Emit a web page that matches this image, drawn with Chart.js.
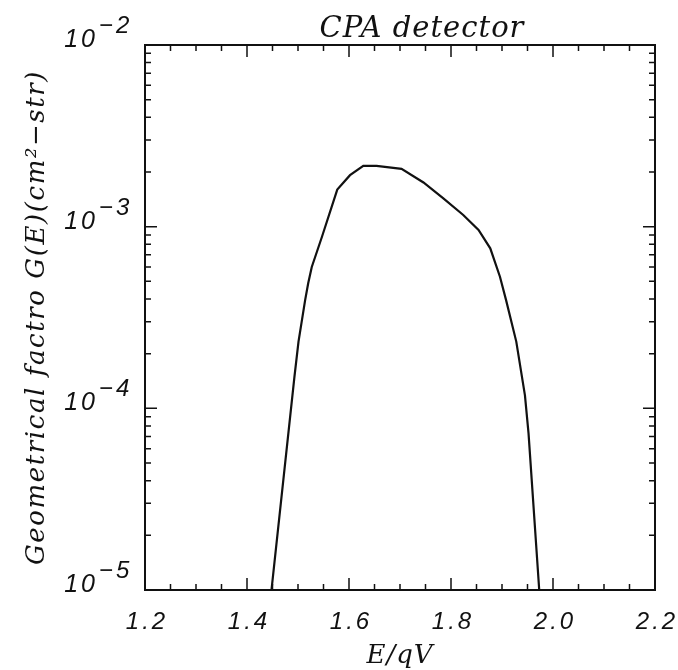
<!DOCTYPE html>
<html>
<head>
<meta charset="utf-8">
<script src="https://cdn.jsdelivr.net/npm/chart.js@4.4.1/dist/chart.umd.min.js"></script>
<style>
  body { margin: 0; background: #fff; }
  canvas { display: block; }
</style>
</head>
<body>
<canvas id="cpaChart" width="678" height="670"></canvas>
<script>
// E/qV values
var energy = [1.448, 1.493, 1.501, 1.514, 1.520, 1.527, 1.547, 1.577, 1.602, 1.628, 1.654,
              1.703, 1.746, 1.785, 1.824, 1.854, 1.877, 1.896, 1.908, 1.928, 1.945, 1.952, 1.973];
// geometrical factor G(E) in cm^2-str
var gFactor = [1.0e-5, 1.49e-4, 2.33e-4, 3.94e-4, 4.88e-4, 6.0e-4, 8.8e-4, 1.60e-3, 1.92e-3, 2.16e-3, 2.16e-3,
               2.08e-3, 1.75e-3, 1.43e-3, 1.16e-3, 9.6e-4, 7.6e-4, 5.3e-4, 3.94e-4, 2.33e-4, 1.18e-4, 7.3e-5, 1.0e-5];

var xTicks = [1.2, 1.4, 1.6, 1.8, 2.0, 2.2];
var xTickLabels = ['1.2', '1.4', '1.6', '1.8', '2.0', '2.2'];
var yTicks = [1e-2, 1e-3, 1e-4, 1e-5];
var yTickExps = ['\u22122', '\u22123', '\u22124', '\u22125'];

var chartTitle = 'CPA detector';
var xTitle = 'E/qV';
var yTitle = 'Geometrical factro G(E)(cm\u00B2\u2212str)';

var points = energy.map(function (e, i) {
    return { x: e, y: gFactor[i] };
});

// draws the box, inward ticks and all labels the IDL way
var idlAxes = {
    id: 'idlAxes',
    afterDraw: function (chart) {
        var ctx = chart.ctx;
        var a = chart.chartArea;
        var xs = chart.scales.x;
        var ys = chart.scales.y;
        ctx.save();
        ctx.strokeStyle = '#111';
        ctx.fillStyle = '#111';
        ctx.lineWidth = 2;
        ctx.strokeRect(a.left, a.top, a.right - a.left, a.bottom - a.top);

        ctx.lineWidth = 1.5;
        ctx.beginPath();
        // x ticks every 0.05, major every 0.2
        for (var i = 0; i <= 20; i++) {
            var v = 1.2 + i * 0.05;
            var px = xs.getPixelForValue(v);
            var len = (i % 4 === 0) ? 12 : 6;
            ctx.moveTo(px, a.bottom); ctx.lineTo(px, a.bottom - len);
            ctx.moveTo(px, a.top); ctx.lineTo(px, a.top + len);
        }
        // y log ticks
        for (var d = -5; d < -2; d++) {
            for (var k = 1; k <= 9; k++) {
                var py = ys.getPixelForValue(k * Math.pow(10, d));
                var l2 = (k === 1) ? 12 : 6;
                ctx.moveTo(a.left, py); ctx.lineTo(a.left + l2, py);
                ctx.moveTo(a.right, py); ctx.lineTo(a.right - l2, py);
            }
        }
        ctx.stroke();

        // x tick labels
        ctx.font = 'italic 24px "Liberation Sans"';
        ctx.textAlign = 'center';
        ctx.textBaseline = 'alphabetic';
        ctx.letterSpacing = '3px';
        xTicks.forEach(function (t, i) {
            ctx.fillText(xTickLabels[i], xs.getPixelForValue(t) + 2, 629);
        });

        // y tick labels: 10 with raised exponent
        yTicks.forEach(function (t, i) {
            var py = ys.getPixelForValue(t);
            ctx.font = 'italic 25px "Liberation Sans"';
            ctx.textAlign = 'right';
            ctx.letterSpacing = '3px';
            ctx.fillText('10', 98, py + 2);
            ctx.textAlign = 'left';
            ctx.font = 'italic 24px "Liberation Sans"';
            ctx.letterSpacing = '3px';
            ctx.fillText(yTickExps[i], 99, py - 12);
        });

        // titles
        ctx.letterSpacing = '1px';
        ctx.font = 'italic 29px "DejaVu Serif"';
        ctx.textAlign = 'center';
        ctx.fillText(chartTitle, (a.left + a.right) / 2 + 22, 37);

        ctx.font = 'italic 26px "DejaVu Serif"';
        ctx.fillText(xTitle, (a.left + a.right) / 2, 663);

        ctx.font = 'italic 26px "DejaVu Serif"';
        ctx.letterSpacing = '0px';
        var w = ctx.measureText(yTitle).width;
        ctx.letterSpacing = ((495 - w) / yTitle.length).toFixed(2) + 'px';
        ctx.translate(44, (a.top + a.bottom) / 2);
        ctx.rotate(-Math.PI / 2);
        ctx.fillText(yTitle, 0, 0);
        ctx.restore();
    }
};

var ctx = document.getElementById('cpaChart');
var cpaChart = new Chart(ctx, {
    type: 'scatter',
    data: {
        datasets: [{
            data: points,
            showLine: true,
            borderColor: '#111',
            borderWidth: 2.2,
            pointRadius: 0,
            tension: 0,
            fill: false
        }]
    },
    options: {
        responsive: false,
        animation: false,
        layout: {
            padding: { left: 145, right: 23, top: 45, bottom: 80 }
        },
        plugins: {
            legend: { display: false },
            tooltip: { enabled: false },
            title: { display: false }
        },
        scales: {
            x: {
                type: 'linear',
                display: false,
                min: 1.2,
                max: 2.2
            },
            y: {
                type: 'logarithmic',
                display: false,
                min: 1e-5,
                max: 1e-2
            }
        }
    },
    plugins: [idlAxes]
});
</script>
</body>
</html>
